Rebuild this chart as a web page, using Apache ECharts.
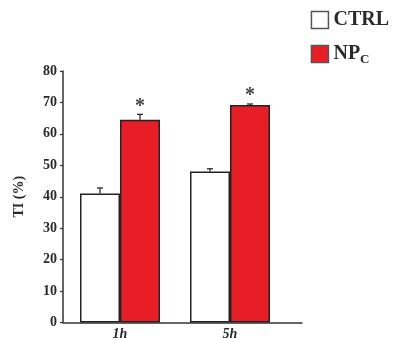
<!DOCTYPE html>
<html>
<head>
<meta charset="utf-8">
<script src="https://cdn.jsdelivr.net/npm/echarts@6/dist/echarts.min.js"></script>
<style>
html,body{margin:0;padding:0;background:#fff;}
#chart{width:398px;height:338px;}
</style>
</head>
<body>
<div id="chart"></div>
<script>
var categories = ['1h', '5h'];
var ctrlValues = [41, 48];
var ctrlErrors = [1.8, 0.9];
var npValues = [64.5, 69.2];
var npErrors = [1.7, 0.3];
var significance = ['*', '*'];
var yTicks = [0, 10, 20, 30, 40, 50, 60, 70, 80];

var FONT = '"Liberation Serif", "Times New Roman", serif';
var RED = '#e81e26';
var DARK = '#2a2a2a';

function errorSeries(name, values, errors, offset, marks) {
  return {
    type: 'custom',
    name: name + '-err',
    xAxisIndex: 1,
    yAxisIndex: 1,
    silent: true,
    z: 5,
    data: values.map(function (v, i) { return [i, v, errors[i]]; }),
    renderItem: function (params, api) {
      var i = api.value(0), v = api.value(1), e = api.value(2);
      var base = api.coord([i, v]);
      var top = api.coord([i, v + e]);
      var x = base[0] + offset;
      var children = [];
      if (e > 0) {
        children.push({ type: 'line', shape: { x1: x, y1: base[1], x2: x, y2: top[1] }, style: { stroke: DARK, lineWidth: 1.3 } });
        children.push({ type: 'line', shape: { x1: x - 3, y1: top[1], x2: x + 3, y2: top[1] }, style: { stroke: DARK, lineWidth: 1.3 } });
      }
      if (marks && marks[params.dataIndex]) {
        children.push({ type: 'text', x: x, y: top[1] - 8, style: { text: marks[params.dataIndex], font: 'bold 20px ' + FONT, fill: '#444', align: 'center', verticalAlign: 'middle' } });
      }
      return { type: 'group', children: children };
    }
  };
}

var chart = echarts.init(document.getElementById('chart'), null, { renderer: 'canvas' });
chart.setOption({
  animation: false,
  backgroundColor: '#ffffff',
  grid: [
    { left: 63, top: 71, width: 239, height: 251.5, containLabel: false, outerBoundsMode: 'none' },
    { left: 65, top: 71, width: 220, height: 251.5, containLabel: false, outerBoundsMode: 'none' }
  ],
  legend: {
    orient: 'vertical',
    right: 4,
    top: 5,
    itemWidth: 17,
    itemHeight: 17,
    itemGap: 14,
    icon: 'rect',
    textStyle: {
      fontFamily: FONT, fontWeight: 'bold', fontSize: 20, color: DARK,
      rich: {
        main: { fontFamily: FONT, fontWeight: 'bold', fontSize: 20, color: DARK },
        sub: { fontFamily: FONT, fontWeight: 'bold', fontSize: 13, color: DARK, padding: [12, 0, 0, 0] }
      }
    },
    formatter: function (name) {
      if (name === 'NPC') return '{main|NP}{sub|C}';
      return '{main|' + name + '}';
    },
    data: [
      { name: 'CTRL', itemStyle: { color: '#ffffff', borderColor: '#555', borderWidth: 1.5 } },
      { name: 'NPC', itemStyle: { color: RED, borderColor: '#555', borderWidth: 1.5 } }
    ]
  },
  xAxis: [
    {
      gridIndex: 0, type: 'category', data: categories,
      axisLine: { show: true, lineStyle: { color: '#333', width: 1.5 } },
      axisTick: { show: false }, axisLabel: { show: false }, splitLine: { show: false }
    },
    {
      gridIndex: 1, type: 'category', data: categories,
      axisLine: { show: false }, axisTick: { show: false }, splitLine: { show: false },
      axisLabel: { margin: 5, fontFamily: FONT, fontWeight: 'bold', fontStyle: 'italic', fontSize: 14, color: DARK }
    }
  ],
  yAxis: [
    {
      gridIndex: 0, type: 'value', min: yTicks[0], max: yTicks[yTicks.length - 1], interval: 10,
      name: 'TI (%)', nameLocation: 'middle', nameGap: 37,
      nameTextStyle: { fontFamily: FONT, fontWeight: 'bold', fontSize: 14, color: DARK },
      axisLine: { show: true, lineStyle: { color: '#333', width: 1.5 } },
      axisTick: { show: true, length: 3, lineStyle: { color: '#333', width: 1.2 } },
      axisLabel: { margin: 6, fontFamily: FONT, fontWeight: 'bold', fontSize: 14, color: DARK },
      splitLine: { show: false }
    },
    {
      gridIndex: 1, type: 'value', min: yTicks[0], max: yTicks[yTicks.length - 1], interval: 10,
      show: false, splitLine: { show: false }
    }
  ],
  series: [
    {
      name: 'CTRL', type: 'bar', xAxisIndex: 1, yAxisIndex: 1, data: ctrlValues,
      barWidth: 40, barGap: '0%',
      itemStyle: { color: '#ffffff', borderColor: '#222', borderWidth: 1.5 }
    },
    {
      name: 'NPC', type: 'bar', xAxisIndex: 1, yAxisIndex: 1, data: npValues,
      barWidth: 40, barGap: '0%',
      itemStyle: { color: RED, borderColor: '#222', borderWidth: 1.5 }
    },
    errorSeries('CTRL', ctrlValues, ctrlErrors, -20, null),
    errorSeries('NPC', npValues, npErrors, 20, significance)
  ]
});
</script>
</body>
</html>
